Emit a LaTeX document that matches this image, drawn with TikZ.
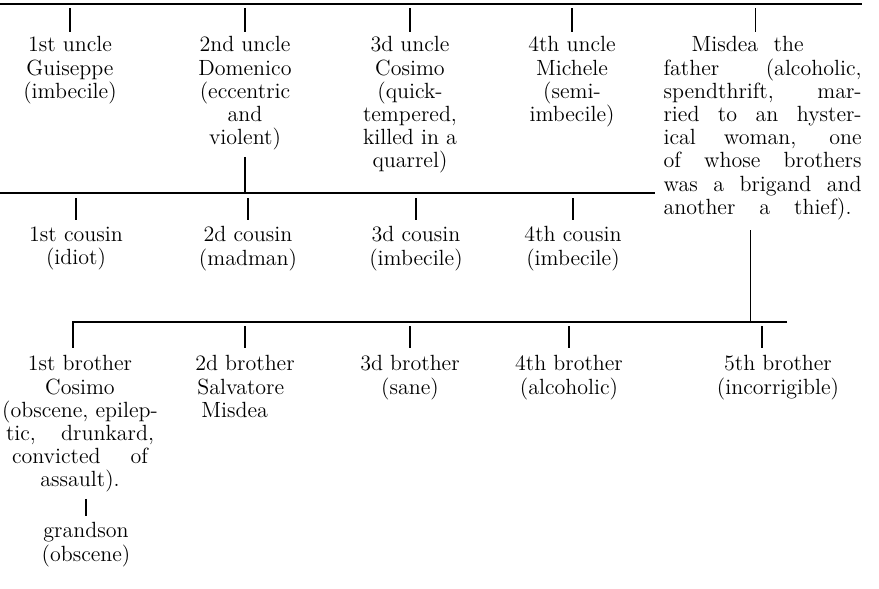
\documentclass[tikz,border=0pt]{standalone}

\tikzset{
  txt/.style={anchor=north,inner sep=0pt,align=center,font=\fontsize{11}{11.6}\selectfont},
  rama/.style={line width=0.6pt},
}

\begin{document}
\begin{tikzpicture}[x=0.5pt,y=-0.5pt,rama]
\useasboundingbox (0,0) rectangle (879,589);

% Tios
\coordinate (barU) at (0,4);
\node[txt] (u1) at (70,36) {1st uncle\\Guiseppe\\(imbecile)};
\node[txt] (u2) at (245,36) {2nd uncle\\Domenico\\(eccentric\\and\\violent)};
\node[txt] (u3) at (410,36) {3d uncle\\Cosimo\\(quick-\\tempered,\\killed in a\\quarrel)};
\node[txt] (u4) at (572,36) {4th uncle\\Michele\\(semi-\\imbecile)};
\node[txt,anchor=north west,align=left] (fa) at (663,36) {%
  \hspace*{14pt}\makebox[56pt][s]{Misdea the}\\
  \makebox[99pt][s]{father (alcoholic,}\\
  \makebox[99pt][s]{spendthrift, mar-}\\
  \makebox[99pt][s]{ried to an hyster-}\\
  \makebox[99pt][s]{ical woman, one}\\
  \makebox[99pt][s]{of whose brothers}\\
  \makebox[99pt][s]{was a brigand and}\\
  \makebox[94pt][s]{another a thief).}};

\draw[line width=0.8pt] (barU) -- ++(862,0);
\foreach \n in {u1,u2,u3,u4}
  \draw (\n |- barU) ++(0,4) -- ++(0,24);
\draw ([xshift=-3.5pt]fa.north |- barU) ++(0,4) -- ++(0,24);

% Primos
\coordinate (barC) at (0,193);
\draw (barC) -- ++(655,0);
\draw ([yshift=-3pt]u2.south) -- (u2 |- barC);
\node[txt] (c1) at (76,226) {1st cousin\\(idiot)};
\node[txt] (c2) at (248,226) {2d cousin\\(madman)};
\node[txt] (c3) at (416,226) {3d cousin\\(imbecile)};
\node[txt] (c4) at (573,226) {4th cousin\\(imbecile)};
\foreach \n in {c1,c2,c3,c4}
  \draw (\n |- barC) ++(0,5) -- ++(0,22);

% Hermanos
\coordinate (barB) at (73,322);
\coordinate (barBend) at (787,322);
\draw ([xshift=-6pt,yshift=-5pt]fa.south) -- ([xshift=-6pt]fa.south |- barB);
\draw (barBend) -- (barB) -- ++(0,26);
\node[txt] (b1) at (80,355) {1st brother\\Cosimo\\(obscene, epilep-\\
  \makebox[74pt][s]{tic, drunkard,}\\\makebox[68pt][s]{convicted of}\\assault).};
\node[txt,align=left] (b2) at (245,355) {2d brother\\\hspace*{1pt}Salvatore\\\hspace*{3pt}Misdea};
\node[txt] (b3) at (410,355) {3d brother\\(sane)};
\node[txt] (b4) at (569,355) {4th brother\\(alcoholic)};
\node[txt] (b5) at (778,355) {5th brother\\(incorrigible)};
\foreach \n in {b2,b3,b4}
  \draw (\n |- barB) ++(0,4) -- ++(0,22);
\draw ([xshift=-8pt]b5.north |- barB) ++(0,4) -- ++(0,22);

% Nieto
\node[txt] (g) at (86,522) {grandson\\(obscene)};
\draw ([yshift=-3pt]b1.south -| g) -- ([yshift=3pt]g.north);

\end{tikzpicture}
\end{document}
